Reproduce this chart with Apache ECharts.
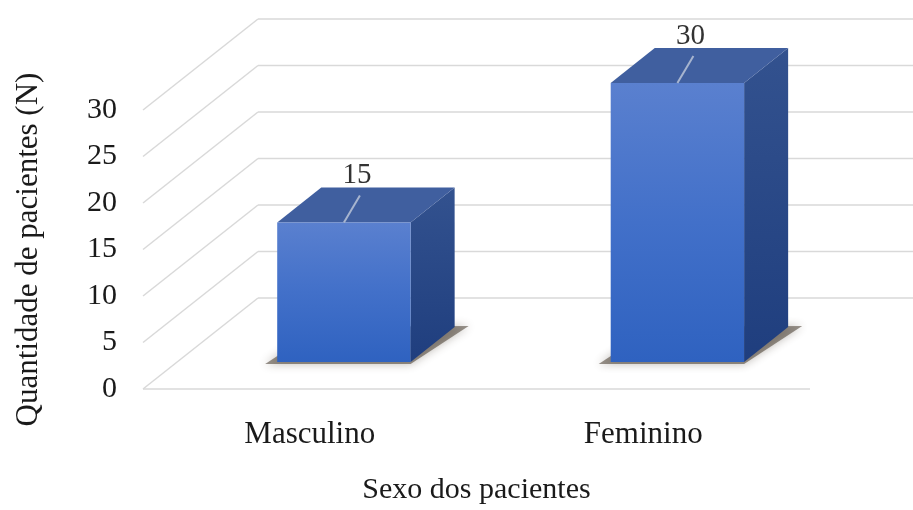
<!DOCTYPE html>
<html>
<head>
<meta charset="utf-8">
<script src="https://cdn.jsdelivr.net/npm/echarts@6/dist/echarts.min.js"></script>
<style>
  html, body { margin: 0; padding: 0; background: #ffffff; }
  #chart { width: 913px; height: 510px; }
</style>
</head>
<body>
<div id="chart"></div>
<script>
// Patients by sex
const categories = ['Masculino', 'Feminino'];
const patientCounts = [15, 30];
const valueTicks = [0, 5, 10, 15, 20, 25, 30];

// Oblique 3D look: depth offset of the floor, and the slab of depth the bars occupy
const DEPTH_DX = 115;
const DEPTH_DY = -91;
const BAR_DEPTH_START = 0.297;
const BAR_DEPTH_END = 0.68;
const BAR_RATIO = 0.4;
const FONT = '"Liberation Serif", "Times New Roman", serif';

const chart = echarts.init(document.getElementById('chart'), null, { renderer: 'canvas' });

// Gridlines: one diagonal on the left floor/wall edge plus a back-wall line per tick
function renderGrid(params, api) {
  const v = api.value(0);
  const cs = params.coordSys;
  const y = api.coord([0, v])[1];
  const lineStyle = { stroke: '#d9d9d9', lineWidth: 1.5 };
  const children = [
    { type: 'line', shape: { x1: cs.x, y1: y, x2: cs.x + DEPTH_DX, y2: y + DEPTH_DY }, style: lineStyle },
    { type: 'line', shape: { x1: cs.x + DEPTH_DX, y1: y + DEPTH_DY, x2: cs.x + cs.width + DEPTH_DX, y2: y + DEPTH_DY }, style: lineStyle }
  ];
  if (v === 0) {
    children.push({ type: 'line', shape: { x1: cs.x, y1: y, x2: cs.x + cs.width, y2: y }, style: lineStyle });
  }
  return { type: 'group', children: children };
}

// 3D column: front, side and top faces, floor shadow, value label with leader
function renderBar(params, api) {
  const idx = api.value(0);
  const val = api.value(1);
  const base = api.coord([idx, 0]);
  const topP = api.coord([idx, val]);
  const band = api.size([1, 0])[0];
  const bw = band * BAR_RATIO;
  const ox = DEPTH_DX * BAR_DEPTH_START, oy = DEPTH_DY * BAR_DEPTH_START;
  const ddx = DEPTH_DX * (BAR_DEPTH_END - BAR_DEPTH_START);
  const ddy = DEPTH_DY * (BAR_DEPTH_END - BAR_DEPTH_START);
  const l = base[0] - bw / 2 + ox, r = base[0] + bw / 2 + ox;
  const b = base[1] + oy, t = topP[1] + oy;
  const cx = (l + r) / 2;

  return {
    type: 'group',
    children: [
      {
        type: 'polygon',
        shape: { points: [[l - 12, b + 2], [r, b + 2], [r + ddx + 14, b + ddy - 1], [l + ddx, b + ddy]] },
        style: { fill: 'rgba(70,58,45,0.55)', shadowBlur: 10, shadowColor: 'rgba(60,48,36,0.6)' }
      },
      {
        type: 'polygon',
        shape: { points: [[r, b], [r + ddx, b + ddy], [r + ddx, t + ddy], [r, t]] },
        style: {
          fill: new echarts.graphic.LinearGradient(0, 0, 0, 1, [
            { offset: 0, color: '#33528f' },
            { offset: 1, color: '#1f3e7e' }
          ])
        }
      },
      {
        type: 'polygon',
        shape: { points: [[l, t], [r, t], [r + ddx, t + ddy], [l + ddx, t + ddy]] },
        style: { fill: '#405f9f' }
      },
      {
        type: 'rect',
        shape: { x: l, y: t, width: r - l, height: b - t },
        style: {
          fill: new echarts.graphic.LinearGradient(0, 0, 0, 1, [
            { offset: 0, color: '#5a80cf' },
            { offset: 0.5, color: '#4270c9' },
            { offset: 1, color: '#2f62c0' }
          ])
        }
      },
      {
        type: 'line',
        shape: { x1: cx, y1: t, x2: cx + 16, y2: t - 27 },
        style: { stroke: '#a7b5cf', lineWidth: 2 }
      },
      {
        type: 'text',
        style: {
          x: cx + 13, y: t - 47,
          text: String(val),
          font: '29px ' + FONT,
          fill: '#333333',
          align: 'center', verticalAlign: 'middle'
        }
      }
    ]
  };
}

chart.setOption({
  backgroundColor: '#ffffff',
  animation: false,
  grid: { left: 143, right: 103, top: 110, bottom: 113 },
  xAxis: {
    type: 'category',
    data: categories,
    name: 'Sexo dos pacientes',
    nameLocation: 'middle',
    nameGap: 86,
    nameTextStyle: { fontFamily: FONT, fontSize: 30, color: '#1a1a1a' },
    axisLine: { show: false },
    axisTick: { show: false },
    axisLabel: { fontFamily: FONT, fontSize: 31, color: '#1a1a1a', margin: 30 }
  },
  yAxis: {
    type: 'value',
    min: 0,
    max: 30,
    interval: 5,
    name: 'Quantidade de pacientes (N)',
    nameLocation: 'middle',
    nameRotate: 90,
    nameGap: 114,
    nameTextStyle: { fontFamily: FONT, fontSize: 31, color: '#1a1a1a', verticalAlign: 'middle' },
    axisLine: { show: false },
    axisTick: { show: false },
    splitLine: { show: false },
    axisLabel: { fontFamily: FONT, fontSize: 30, color: '#1a1a1a', margin: 26 }
  },
  series: [
    {
      type: 'custom',
      name: 'grade',
      clip: false,
      z: 1,
      renderItem: renderGrid,
      encode: { y: 0 },
      data: valueTicks.map(v => [v]),
      silent: true
    },
    {
      type: 'custom',
      name: 'Pacientes',
      clip: false,
      z: 2,
      renderItem: renderBar,
      encode: { x: 0, y: 1 },
      data: patientCounts.map((v, i) => [i, v])
    }
  ]
});
</script>
</body>
</html>
